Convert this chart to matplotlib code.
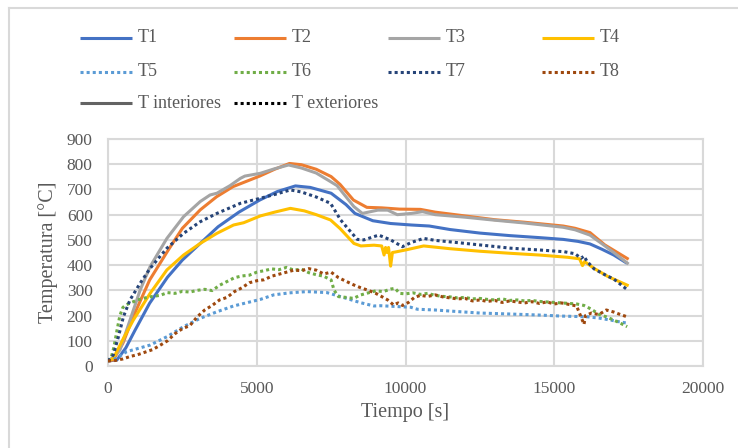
import matplotlib
matplotlib.use("Agg")
import matplotlib.pyplot as plt
from matplotlib.lines import Line2D

# ---- measured temperatures (time [s], temperature [°C]) ----
T1 = [(0, 20), (300, 24), (600, 72), (900, 140), (1400, 249), (2000, 352), (2500, 420),
      (3100, 486), (3700, 552), (4400, 610), (5100, 658), (5700, 692), (6300, 714),
      (6800, 708), (7500, 685), (8000, 640), (8300, 605), (8900, 576), (9500, 565),
      (10200, 559), (10800, 555), (11500, 541), (12500, 527), (13500, 517),
      (14500, 509), (15300, 502), (15800, 494), (16200, 484), (16600, 463),
      (17000, 440), (17450, 407)]

T2 = [(0, 20), (180, 24), (500, 90), (850, 196), (1400, 341), (2000, 455), (2500, 546),
      (3100, 619), (3650, 671), (4200, 711), (5100, 753), (5600, 780), (6100, 803),
      (6500, 798), (7000, 780), (7500, 751), (7800, 720), (8250, 658), (8700, 629),
      (9200, 627), (9800, 622), (10500, 621), (11000, 610), (12000, 595), (13000, 580),
      (14000, 570), (15300, 555), (15700, 546), (16200, 529), (16700, 480), (17500, 423)]

T3 = [(0, 20), (70, 24), (400, 63), (740, 182), (1080, 301), (1415, 394), (1980, 506),
      (2540, 592), (3100, 652), (3430, 678), (3660, 685), (4100, 715), (4450, 744),
      (4600, 753), (5120, 764), (5600, 782), (6070, 797), (6500, 785), (7000, 765),
      (7480, 731), (7700, 715), (8265, 632), (8550, 605), (9070, 618), (9400, 618),
      (9725, 600), (10200, 605), (10570, 612), (11000, 600), (12000, 590), (13000, 578),
      (14000, 567), (15300, 550), (15700, 540), (16200, 519), (16600, 485),
      (17000, 450), (17500, 404)]

T4 = [(0, 20), (180, 30), (520, 110), (850, 182), (1415, 288), (1980, 381), (2540, 440),
      (3100, 486), (3660, 526), (4220, 559), (4560, 568), (5120, 595), (5600, 610),
      (6130, 625), (6600, 615), (7000, 600), (7480, 579), (7800, 545), (8265, 486),
      (8500, 476), (8940, 479), (9200, 476), (9280, 440), (9330, 470), (9380, 450),
      (9430, 470), (9500, 396), (9560, 450), (9660, 452), (10000, 460), (10610, 476),
      (11500, 465), (12500, 455), (13500, 447), (14500, 440), (15450, 431),
      (15850, 425), (15950, 398), (16020, 414), (16340, 387), (16800, 355), (17500, 318)]

T5 = [(0, 20), (180, 24), (630, 57), (1415, 83), (1980, 116), (2540, 156), (3100, 189),
      (3660, 215), (4220, 238), (5120, 264), (5570, 282), (6100, 290), (6690, 295),
      (7360, 291), (7820, 275), (8490, 251), (8940, 238), (9165, 239), (9840, 235),
      (10175, 233), (10400, 225), (11000, 222), (11850, 215), (12500, 210),
      (13545, 206), (14500, 202), (15230, 198), (16130, 195), (16500, 190),
      (16900, 182), (17200, 175), (17500, 169)]

T6 = [(0, 20), (100, 30), (200, 75), (300, 140), (400, 200), (500, 232), (600, 242),
      (750, 250), (1000, 262), (1250, 270), (1500, 276), (1750, 280), (2000, 291),
      (2250, 288), (2500, 296), (2750, 293), (3000, 300), (3250, 304), (3500, 299),
      (3750, 320), (4000, 335), (4250, 350), (4500, 357), (4750, 360), (5000, 372),
      (5250, 378), (5500, 385), (5750, 382), (6000, 391), (6250, 380), (6500, 384),
      (6750, 370), (7000, 362), (7250, 356), (7500, 341), (7600, 300), (7750, 275),
      (8000, 272), (8250, 268), (8500, 282), (8750, 290), (9000, 298), (9250, 295),
      (9500, 305), (9650, 308), (9800, 288), (10000, 286), (10250, 290), (10500, 284),
      (10750, 288), (11000, 280), (11250, 276), (11500, 274), (11750, 270),
      (12000, 272), (12250, 266), (12500, 268), (12750, 264), (13000, 262),
      (13250, 266), (13500, 260), (13750, 262), (14000, 258), (14250, 260),
      (14500, 256), (14750, 254), (15000, 252), (15250, 250), (15500, 248),
      (15750, 246), (16000, 240), (16250, 225), (16500, 205), (16750, 195),
      (17000, 182), (17250, 168), (17450, 156)]

T7 = [(0, 20), (180, 44), (350, 116), (520, 196), (740, 262), (1080, 328), (1415, 387),
      (1980, 467), (2540, 526), (3100, 572), (3660, 605), (4450, 645), (5120, 665),
      (5600, 680), (6130, 698), (6500, 690), (7000, 670), (7480, 645), (7820, 579),
      (8100, 540), (8380, 502), (8600, 500), (9100, 519), (9500, 500), (9895, 473),
      (10200, 490), (10610, 506), (11000, 498), (11850, 488), (12500, 480),
      (13545, 467), (14500, 460), (15340, 453), (15700, 445), (15900, 427),
      (16000, 436), (16100, 415), (16340, 385), (16700, 362), (17010, 344), (17470, 301)]

T8 = [(0, 20), (250, 22), (500, 28), (750, 38), (1000, 45), (1250, 55), (1500, 65),
      (1750, 82), (2000, 100), (2250, 128), (2500, 148), (2750, 160), (3000, 195),
      (3250, 222), (3500, 240), (3750, 262), (4000, 272), (4250, 295), (4500, 310),
      (4750, 330), (5000, 338), (5250, 342), (5500, 356), (5750, 364), (6000, 372),
      (6250, 380), (6500, 378), (6750, 386), (7000, 380), (7250, 365), (7500, 372),
      (7750, 350), (8000, 336), (8250, 322), (8500, 310), (8750, 300), (9000, 288),
      (9250, 272), (9400, 262), (9600, 242), (9750, 250), (9900, 240), (10100, 252),
      (10300, 272), (10500, 280), (10750, 276), (11000, 282), (11250, 274),
      (11500, 270), (11750, 266), (12000, 268), (12250, 258), (12500, 262),
      (12750, 256), (13000, 260), (13250, 252), (13500, 258), (13750, 254),
      (14000, 250), (14250, 255), (14500, 248), (14750, 254), (15000, 246),
      (15250, 250), (15500, 244), (15750, 238), (15950, 180), (16000, 165),
      (16050, 200), (16250, 210), (16500, 204), (16750, 222), (17000, 214),
      (17200, 205), (17450, 195)]

series_names = ["T1", "T2", "T3", "T4", "T5", "T6", "T7", "T8"]
series_data = [T1, T2, T3, T4, T5, T6, T7, T8]
series_colors = ["#4472C4", "#ED7D31", "#A5A5A5", "#FFC000",
                 "#5B9BD5", "#70AD47", "#264478", "#9E480E"]
series_dotted = [False, False, False, False, True, True, True, True]

group_names = ["T interiores", "T exteriores"]
group_colors = ["#636363", "#000000"]
group_dotted = [False, True]

x_ticks = [0, 5000, 10000, 15000, 20000]
y_ticks = [0, 100, 200, 300, 400, 500, 600, 700, 800, 900]

# ---- styling ----
W, H = 738, 448
TEXT = "#595959"
GRID = "#D9D9D9"
FONT = ["Liberation Serif", "DejaVu Serif"]
LW = 2.2
DOTS = (0, (1.0, 1.0))

plt.rcParams["font.family"] = FONT

fig = plt.figure(figsize=(W / 100, H / 100), dpi=100)
fig.patch.set_facecolor("white")

left, right, top, bottom = 108, 703, 139, 366
ax = fig.add_axes([left / W, 1 - bottom / H, (right - left) / W, (bottom - top) / H])

for name, data, color, dotted in zip(series_names, series_data, series_colors, series_dotted):
    xs = [p[0] for p in data]
    ys = [p[1] for p in data]
    ax.plot(xs, ys, color=color, lw=LW,
            linestyle=DOTS if dotted else "-",
            solid_capstyle="butt", dash_capstyle="butt", solid_joinstyle="round",
            zorder=3)

ax.set_xlim(x_ticks[0], x_ticks[-1])
ax.set_ylim(y_ticks[0], y_ticks[-1])
ax.set_xticks(x_ticks)
ax.set_yticks(y_ticks)
ax.grid(True, color=GRID, lw=1.5, zorder=0)
ax.set_axisbelow(True)
for sp in ax.spines.values():
    sp.set_color(GRID)
    sp.set_linewidth(1.5)
ax.tick_params(length=0, labelsize=12.5, labelcolor=TEXT)
ax.tick_params(axis="y", pad=11)
ax.tick_params(axis="x", pad=11)
ax.set_xlabel("Tiempo [s]", fontsize=14.5, color=TEXT, labelpad=4)
ax.set_ylabel("Temperatura [°C]", fontsize=14.5, color=TEXT, labelpad=6)

# ---- legend laid out on a 4-column grid ----
col_x = [80, 234, 388, 542]
row_y = [38, 72, 103]
handle_len = 52
text_gap = 6

entries = []
for i, (n, c, d) in enumerate(zip(series_names, series_colors, series_dotted)):
    entries.append((i // 4, i % 4, n, c, d))
for j, (n, c, d) in enumerate(zip(group_names, group_colors, group_dotted)):
    entries.append((2, j, n, c, d))

for r, col, n, c, d in entries:
    x0 = col_x[col]
    y0 = row_y[r]
    fig.add_artist(Line2D([x0 / W, (x0 + handle_len) / W], [1 - y0 / H, 1 - y0 / H],
                          color=c, lw=LW, linestyle=DOTS if d else "-",
                          solid_capstyle="butt", dash_capstyle="butt"))
    fig.text((x0 + handle_len + text_gap) / W, 1 - y0 / H, n, fontsize=13,
             color=TEXT, va="center", ha="left")

# ---- chart frame ----
fig.add_artist(Line2D([8.5 / W, 8.5 / W], [0, 1 - 8.5 / H], color=GRID, lw=1.5))
fig.add_artist(Line2D([8.5 / W, 1], [1 - 8.5 / H, 1 - 8.5 / H], color=GRID, lw=1.5))

fig.savefig("out.png", dpi=100, facecolor="white")
